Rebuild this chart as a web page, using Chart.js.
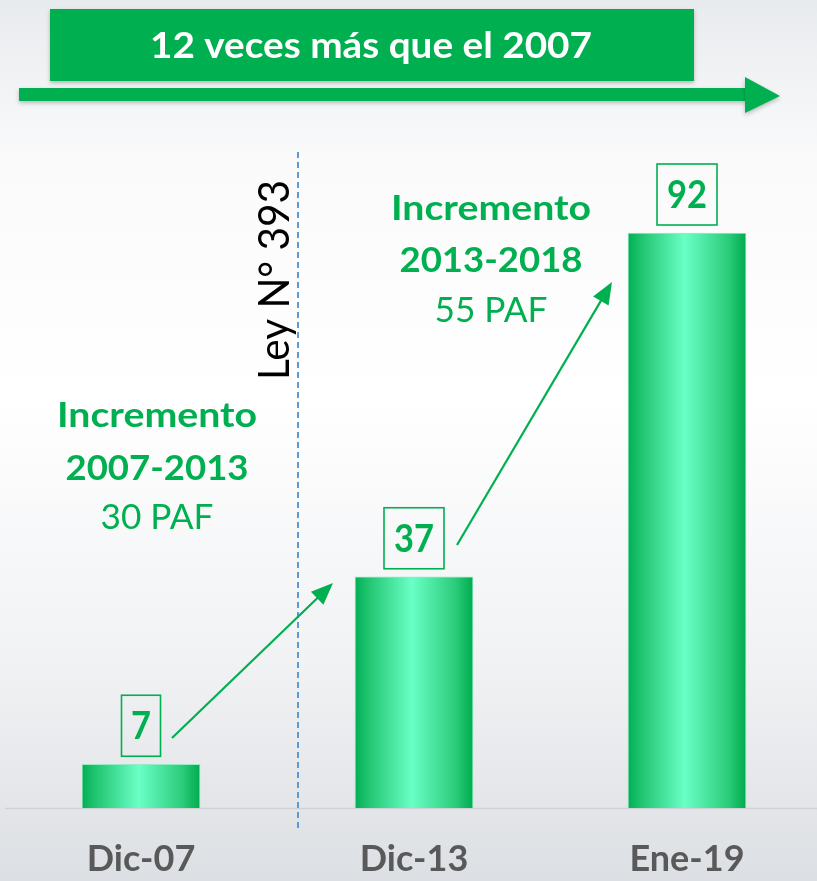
<!DOCTYPE html>
<html>
<head>
<meta charset="utf-8">
<script src="https://cdn.jsdelivr.net/npm/chart.js@4.4.1/dist/chart.umd.min.js"></script>
<style>
  html, body { margin: 0; padding: 0; background: #fff; }
  canvas { display: block; }
</style>
</head>
<body>
<canvas id="pafChart" width="817" height="881"></canvas>
<script>
const categories = ['Dic-07', 'Dic-13', 'Ene-19'];
const pafCount = [7, 37, 92];
const periods = ['2007-2013', '2013-2018'];
const headline = '12 veces más que el 2007';
const lawLabel = 'Ley N° 393';

const GREEN = '#00b050';
const FONT = 'Lato, "Open Sans", sans-serif';

// draw text at a given size, squeezed sideways to span the given width
function squeezeText(ctx, text, weight, size, x, y, width) {
  ctx.font = weight + ' ' + size + 'px ' + FONT;
  const k = width / ctx.measureText(text).width;
  ctx.save();
  ctx.translate(x, y);
  ctx.scale(k, 1);
  ctx.fillText(text, 0, 0);
  ctx.restore();
}

function arrowLine(ctx, x1, y1, x2, y2) {
  const ang = Math.atan2(y2 - y1, x2 - x1);
  const head = 22;
  ctx.strokeStyle = GREEN;
  ctx.fillStyle = GREEN;
  ctx.lineWidth = 2.2;
  ctx.beginPath();
  ctx.moveTo(x1, y1);
  ctx.lineTo(x2 - Math.cos(ang) * head * 0.8, y2 - Math.sin(ang) * head * 0.8);
  ctx.stroke();
  ctx.beginPath();
  ctx.moveTo(x2, y2);
  ctx.lineTo(x2 - head * Math.cos(ang) + 9 * Math.sin(ang), y2 - head * Math.sin(ang) - 9 * Math.cos(ang));
  ctx.lineTo(x2 - head * Math.cos(ang) - 9 * Math.sin(ang), y2 - head * Math.sin(ang) + 9 * Math.cos(ang));
  ctx.closePath();
  ctx.fill();
}

function barGradient(context) {
  const chart = context.chart;
  if (!chart.chartArea) return GREEN;
  const x = chart.scales.x.getPixelForValue(context.dataIndex);
  const g = chart.ctx.createLinearGradient(x - 59, 0, x + 59, 0);
  g.addColorStop(0, '#03ae55');
  g.addColorStop(0.12, '#22c672');
  g.addColorStop(0.48, '#6affc6');
  g.addColorStop(0.85, '#2bcc7a');
  g.addColorStop(1, '#00ab4e');
  return g;
}

const scenery = {
  id: 'scenery',
  beforeDraw(chart) {
    const ctx = chart.ctx;
    const bg = ctx.createLinearGradient(0, 0, 0, chart.height);
    bg.addColorStop(0, '#e8ebee');
    bg.addColorStop(0.18, '#fafafb');
    bg.addColorStop(0.45, '#ffffff');
    bg.addColorStop(0.75, '#f1f2f4');
    bg.addColorStop(1, '#dcdfe3');
    ctx.save();
    ctx.fillStyle = bg;
    ctx.fillRect(0, 0, chart.width, chart.height);
    ctx.restore();
  },
  beforeDatasetsDraw(chart) {
    const ctx = chart.ctx;
    const base = chart.scales.y.getPixelForValue(0);
    ctx.save();
    ctx.strokeStyle = '#cfd3d8';
    ctx.lineWidth = 1.5;
    ctx.beginPath();
    ctx.moveTo(5, base + 0.5);
    ctx.lineTo(chart.width, base + 0.5);
    ctx.stroke();

    // law divider
    ctx.strokeStyle = '#5b9bd5';
    ctx.lineWidth = 2;
    ctx.setLineDash([6, 4]);
    ctx.beginPath();
    ctx.moveTo(298, 152);
    ctx.lineTo(298, 828);
    ctx.stroke();
    ctx.restore();
  },
  afterDatasetsDraw(chart) {
    const ctx = chart.ctx;
    const bars = chart.getDatasetMeta(0).data;
    ctx.save();
    ctx.textAlign = 'center';
    ctx.textBaseline = 'alphabetic';

    // value boxes above each bar
    bars.forEach((bar, i) => {
      const txt = String(pafCount[i]);
      const w = txt.length > 1 ? 60 : 39;
      const bottom = bar.y - 8;
      ctx.strokeStyle = GREEN;
      ctx.lineWidth = 1.6;
      ctx.strokeRect(bar.x - w / 2, bottom - 61, w, 61);
      ctx.fillStyle = GREEN;
      squeezeText(ctx, txt, 'bold', 38, bar.x, bottom - 17, txt.length > 1 ? 40 : 20);
    });

    // increment notes
    const notes = [
      { x: 157, y: [427, 480, 529] },
      { x: 491, y: [220, 272, 322] }
    ];
    const widths = [200, 183, 113];
    notes.forEach((n, i) => {
      const lines = ['Incremento', periods[i], (pafCount[i + 1] - pafCount[i]) + ' PAF'];
      ctx.fillStyle = GREEN;
      lines.forEach((t, k) => {
        squeezeText(ctx, t, k < 2 ? 'bold' : 'normal', 35, n.x, n.y[k], widths[k]);
      });
    });

    arrowLine(ctx, 172, 738, 333, 583);
    arrowLine(ctx, 457, 545, 612, 282);

    // rotated law label
    ctx.save();
    ctx.translate(289, 280);
    ctx.rotate(-Math.PI / 2);
    ctx.fillStyle = '#000';
    squeezeText(ctx, lawLabel, 'normal', 42, 0, 0, 200);
    ctx.restore();

    // headline banner with timeline arrow
    ctx.save();
    ctx.shadowColor = 'rgba(0,0,0,0.25)';
    ctx.shadowBlur = 4;
    ctx.shadowOffsetY = 2;
    ctx.fillStyle = GREEN;
    ctx.fillRect(50, 9, 644, 72);
    ctx.fillRect(19, 88, 727, 13);
    ctx.beginPath();
    ctx.moveTo(745, 77);
    ctx.lineTo(780, 96);
    ctx.lineTo(745, 113);
    ctx.closePath();
    ctx.fill();
    ctx.restore();

    ctx.fillStyle = '#ffffff';
    squeezeText(ctx, headline, 'bold', 36, 371, 58, 442);

    ctx.restore();
  }
};

new Chart(document.getElementById('pafChart'), {
  type: 'bar',
  data: {
    labels: categories,
    datasets: [{
      data: pafCount,
      backgroundColor: barGradient,
      borderColor: 'rgba(140,235,190,0.9)',
      borderWidth: 1,
      barThickness: 118,
      clip: false
    }]
  },
  options: {
    responsive: false,
    animation: false,
    layout: { padding: { left: 141, right: 130, top: 183, bottom: 0 } },
    plugins: {
      legend: { display: false },
      tooltip: { enabled: false }
    },
    scales: {
      x: {
        offset: false,
        grid: { display: false, drawTicks: false },
        border: { display: false },
        afterFit(scale) { scale.height = 73; },
        ticks: {
          color: '#595959',
          font: { family: FONT, size: 36, weight: 'bold' },
          padding: 30,
          maxRotation: 0,
          autoSkip: false
        }
      },
      y: { display: false, min: 0, max: 100 }
    }
  },
  plugins: [scenery]
});
</script>
</body>
</html>
